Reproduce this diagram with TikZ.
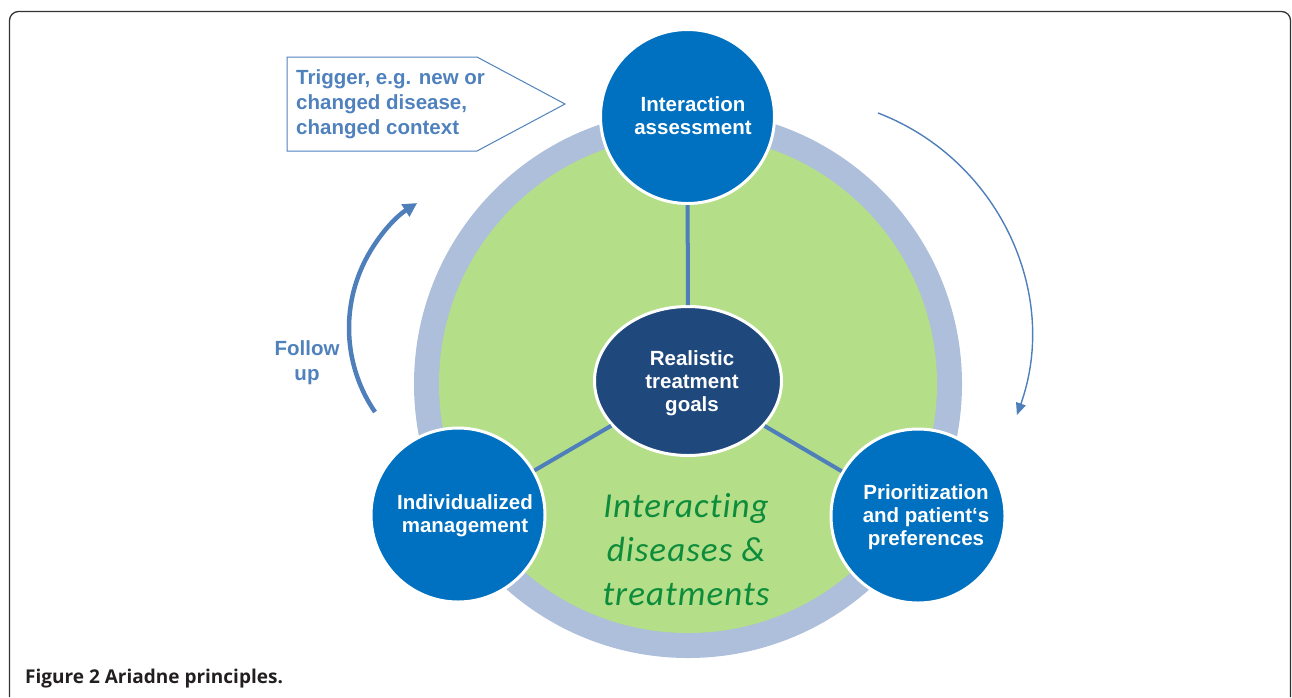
\documentclass[tikz,border=0pt]{standalone}
\usepackage{fontspec}
\setmainfont{Liberation Sans}
\newfontfamily\greenfont[Ligatures={NoCommon},LetterSpace=3]{Carlito}
\newfontfamily\capfont{Open Sans}
\usetikzlibrary{arrows.meta,shapes.geometric}
\definecolor{ringc}{HTML}{AEBFDB}
\definecolor{greenc}{HTML}{B4DE88}
\definecolor{bluec}{HTML}{0070C0}
\definecolor{darkc}{HTML}{1F497D}
\definecolor{linec}{HTML}{4F7FBA}
\definecolor{txtc}{HTML}{4F81BD}
\definecolor{greentxt}{HTML}{0D8C3B}
\definecolor{framec}{HTML}{333333}
\definecolor{capc}{HTML}{231F20}
\begin{document}
\begin{tikzpicture}[x=1pt,y=-1pt,
  bigcirc/.style={circle, fill=bluec, draw=white, line width=3pt, minimum size=174pt, inner sep=0pt},
  ctrell/.style={ellipse, fill=darkc, draw=white, line width=3pt, minimum width=187pt, minimum height=149pt, inner sep=0pt},
  ctext/.style={text=white, font=\fontsize{20.5}{23}\selectfont\bfseries, align=center, inner sep=0pt},
  btext/.style={text=txtc, font=\fontsize{20.5}{25}\selectfont\bfseries, inner sep=0pt},
  conn/.style={draw=linec, line width=4pt},
]
\useasboundingbox (0,0) rectangle (1292,697);
% frame
\draw[framec, line width=1.3pt, rounded corners=9pt] (9.5,697) -- (9.5,11.5) -- (1290.5,11.5) -- (1290.5,697);
% ring and green disc
\fill[ringc] (688,384) circle[radius=274];
\fill[greenc] (688,384) circle[radius=249];
% nodes
\node[bigcirc] (top) at (687.5,116.5) {};
\node[bigcirc] (left) at (458,515) {};
\node[bigcirc] (right) at (918,516) {};
\node[ctrell] (ctr) at (688,381) {};
% connectors
\draw[conn] (top) -- (ctr);
\draw[conn] (ctr) -- (left);
\draw[conn] (ctr) -- (right);
% texts in shapes
\node[ctext] (ttop) at (693,116) {Interaction\\assessment};
\node[ctext] (tleft) at (465,516) {Individualized\\management};
\node[ctext] (tright) at (926,517) {Prioritization\\and patient‘s\\preferences};
\node[ctext] (tctr) at (692,383) {Realistic\\treatment\\goals};
% trigger box
\draw[txtc, line width=1pt] (287,57) -- (477,57) -- (565,104) -- (477,151) -- (287,151) -- cycle;
\node[btext, align=left, anchor=west] (trig) at (296,104) {Trigger, e.g. new or\\changed disease,\\changed context};
% follow up
\node[btext, align=center] (fu) at (307,363) {Follow\\up};
\coordinate (fuS) at (375,412);
\draw[linec, line width=4.5pt, -{Triangle[length=14pt,width=14pt]}] (fuS) arc[start angle=145.6, end angle=237.2, radius=148.7];
% right arrow
\coordinate (raS) at (878,113);
\draw[linec, line width=1.4pt, -{Triangle[length=12pt,width=10pt]}] (raS) arc[start angle=-69, end angle=19.6, radius=238];
% green italic text
\node[text=greentxt, font=\greenfont\itshape\fontsize{35}{44}\selectfont, align=center, inner sep=0pt] (inter) at (686,550) {Interacting\\diseases \&\\treatments};
% caption
\node[anchor=base west, inner sep=0pt, text=capc, font=\capfont\bfseries\fontsize{19}{22}\selectfont] (cap) at (25,683) {Figure 2 Ariadne principles.};
\end{tikzpicture}
\end{document}
